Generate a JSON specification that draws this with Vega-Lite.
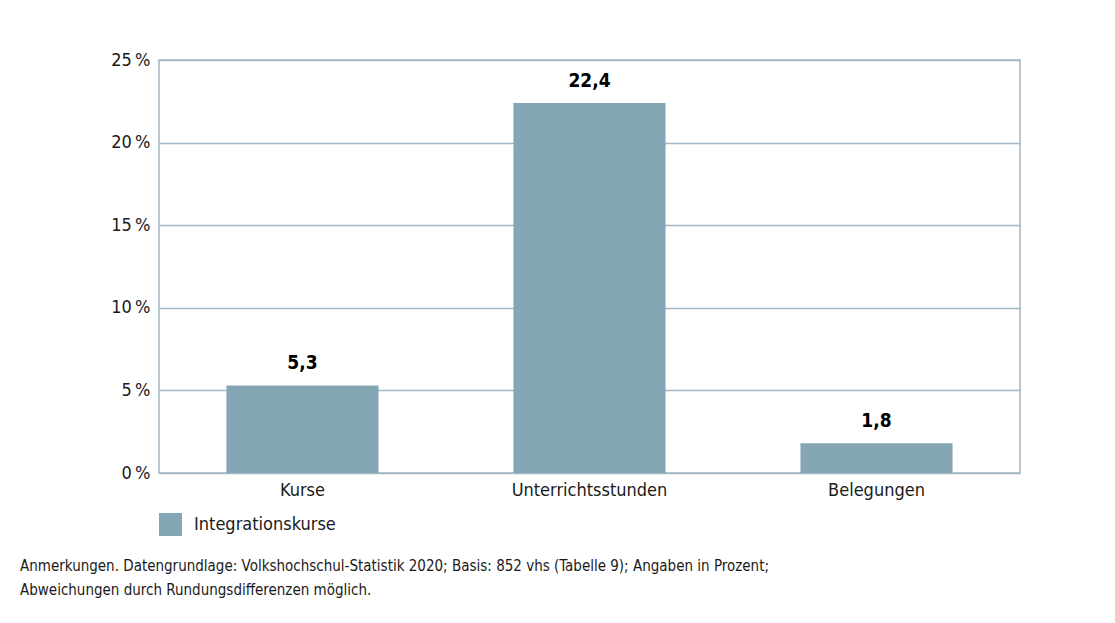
{
  "$schema": "https://vega.github.io/schema/vega-lite/v6.json",
  "autosize": {"type": "none"},
  "width": 861,
  "height": 413,
  "padding": {"left": 159, "top": 60, "right": 95, "bottom": 150},
  "background": "white",
  "config": {
    "locale": {"number": {"decimal": ",", "thousands": ".", "grouping": [3], "currency": ["", " €"]}},
    "font": "DejaVu Sans Condensed, Roboto, sans-serif",
    "view": {"stroke": "#a3b6c3", "strokeWidth": 1.5},
    "axis": {"labelFont": "DejaVu Sans Condensed, Roboto, sans-serif", "labelFontSize": 18, "labelColor": "#1a1a1a", "ticks": false, "domain": false, "title": null},
    "legend": {"labelFont": "DejaVu Sans Condensed, Roboto, sans-serif", "labelFontSize": 18, "labelColor": "#1a1a1a"}
  },
  "title": {
    "text": ["Anmerkungen. Datengrundlage: Volkshochschul-Statistik 2020; Basis: 852 vhs (Tabelle 9); Angaben in Prozent;", "Abweichungen durch Rundungsdifferenzen möglich."],
    "orient": "bottom",
    "anchor": "start",
    "frame": "group",
    "dx": -139,
    "offset": 23,
    "font": "DejaVu Sans Condensed, Roboto, sans-serif",
    "fontSize": 15,
    "fontWeight": "normal",
    "color": "#1a1a1a",
    "lineHeight": 24,
    "baseline": "top"
  },
  "data": {
    "values": [
      {"kategorie": "Kurse", "wert": 5.3, "serie": "Integrationskurse"},
      {"kategorie": "Unterrichtsstunden", "wert": 22.4, "serie": "Integrationskurse"},
      {"kategorie": "Belegungen", "wert": 1.8, "serie": "Integrationskurse"}
    ]
  },
  "encoding": {
    "x": {"field": "kategorie", "type": "nominal", "sort": null,
      "scale": {"paddingInner": 0.47, "paddingOuter": 0.235},
      "axis": {"labelAngle": 0, "labelPadding": 8, "grid": false}},
    "y": {"field": "wert", "type": "quantitative",
      "scale": {"domain": [0, 25]},
      "axis": {"values": [0, 5, 10, 15, 20, 25], "labelExpr": "datum.value + '\u202f%'", "labelPadding": 9, "grid": true, "gridColor": "#a3b6c3", "gridWidth": 1.5, "gridOpacity": 1}}
  },
  "layer": [
    {
      "mark": {"type": "bar", "color": "#84a6b5"},
      "encoding": {
        "color": {"field": "serie", "type": "nominal", "scale": {"range": ["#84a6b5"]},
          "legend": {"title": null, "orient": "none", "legendX": 0, "legendY": 453, "symbolType": "square", "symbolSize": 529, "symbolStrokeWidth": 0, "symbolOpacity": 1, "labelOffset": 12}}
      }
    },
    {
      "mark": {"type": "text", "baseline": "bottom", "dy": -12, "font": "DejaVu Sans Condensed, Roboto, sans-serif", "fontSize": 19, "fontWeight": "bold", "color": "#000000"},
      "encoding": {"text": {"field": "wert", "type": "quantitative", "format": ".1f"}}
    }
  ]
}
